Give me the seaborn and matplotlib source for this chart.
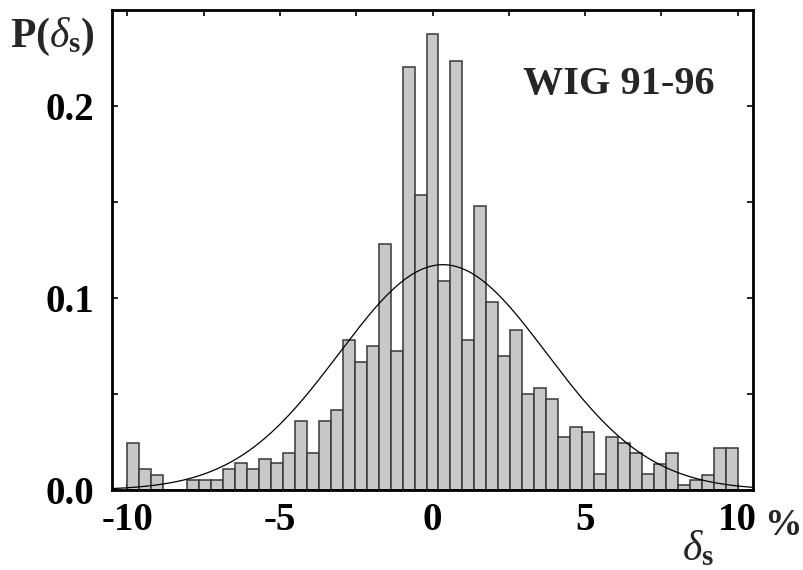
import matplotlib
matplotlib.use('Agg')
import matplotlib.pyplot as plt
import numpy as np
import pandas as pd
import seaborn as sns

# bin range (51 equal bins over -10..10 %) and normalised bar heights
bin_lo = -10.0
bin_hi = 10.0
n_bins = 51
heights = [
    0.0247, 0.0108, 0.0080, 0.0, 0.0, 0.0052, 0.0052, 0.0052, 0.0108, 0.0139,
    0.0108, 0.0163, 0.0139, 0.0191, 0.0358, 0.0191, 0.0358, 0.0414, 0.0779, 0.0668,
    0.0752, 0.1282, 0.0724, 0.2204, 0.1534, 0.2376, 0.1087, 0.2235, 0.0779, 0.1479,
    0.0978, 0.0696, 0.0835, 0.0499, 0.0529, 0.0473, 0.0278, 0.0330, 0.0304, 0.0082,
    0.0277, 0.0247, 0.0191, 0.0082, 0.0136, 0.0191, 0.0024, 0.0052, 0.0080, 0.0221,
    0.0221,
]
# fitted gaussian
gauss_mu = 0.34
gauss_sigma = 3.40

x_ticks = [-10, -7.5, -5, -2.5, 0, 2.5, 5, 7.5, 10]
x_labels = ['-10', '', '-5', '', '0', '', '5', '', '10']
y_ticks = [0.0, 0.05, 0.1, 0.15, 0.2]
y_labels = ['0.0', '', '0.1', '', '0.2']
title_text = 'WIG 91-96'


def main():
    '''draw the histogram with the gaussian fit'''
    sns.set_theme(style='ticks')
    plt.rcParams['font.family'] = ['Liberation Serif', 'DejaVu Serif']
    plt.rcParams['mathtext.fontset'] = 'custom'
    plt.rcParams['mathtext.rm'] = 'Liberation Serif:bold'
    plt.rcParams['mathtext.bf'] = 'Liberation Serif:bold'
    plt.rcParams['mathtext.it'] = 'Liberation Serif:italic'
    plt.rcParams['axes.unicode_minus'] = False

    fig = plt.figure(figsize=(8.04, 5.70), dpi=100)
    ax = fig.add_axes([0.1393, 0.1404, 0.7973, 0.8421])

    width = (bin_hi - bin_lo) / n_bins
    centers = bin_lo + width * (np.arange(n_bins) + 0.5)
    df = pd.DataFrame({'delta': centers, 'p': heights})
    sns.histplot(data=df, x='delta', weights='p', binwidth=width,
                 binrange=(bin_lo, bin_hi), stat='count',
                 color='#c8c8c8', edgecolor='#383838', linewidth=1.1,
                 alpha=1, ax=ax)

    xs = np.linspace(-10.5, 10.5, 400)
    ys = np.exp(-(xs - gauss_mu) ** 2 / (2 * gauss_sigma ** 2)) / (gauss_sigma * np.sqrt(2 * np.pi))
    ax.plot(xs, ys, color='black', linewidth=0.9)

    ax.set_xlim(-10.5, 10.5)
    ax.set_ylim(0, 0.25)
    ax.set_xticks(x_ticks)
    ax.set_xticklabels(x_labels)
    ax.set_yticks(y_ticks)
    ax.set_yticklabels(y_labels)
    ax.set_xlabel('')
    ax.set_ylabel('')
    ax.tick_params(axis='both', direction='in', length=4, width=1.2,
                   top=True, right=True, labelsize=28, colors='black')
    ax.tick_params(axis='x', pad=9)
    ax.tick_params(axis='y', pad=13)
    for lab in ax.get_xticklabels() + ax.get_yticklabels():
        lab.set_fontweight('bold')
    for spine in ax.spines.values():
        spine.set_visible(True)
        spine.set_linewidth(2)
        spine.set_color('black')

    ax.text(2.95, 0.206, title_text, fontsize=29, fontweight='bold',
            ha='left', va='baseline')
    fig.text(0.012, 0.9175, r'$\mathbf{P(}\delta_{\mathbf{s}}\mathbf{)}$',
             fontsize=30, ha='left', va='baseline')
    fig.text(0.951, 0.0614, '%', fontsize=27, fontweight='bold',
             ha='left', va='baseline')
    fig.text(0.848, 0.0175, r'$\delta_{\mathbf{s}}$', fontsize=30,
             ha='left', va='baseline')

    fig.savefig('out.png', dpi=100)


if __name__ == '__main__':
    main()
